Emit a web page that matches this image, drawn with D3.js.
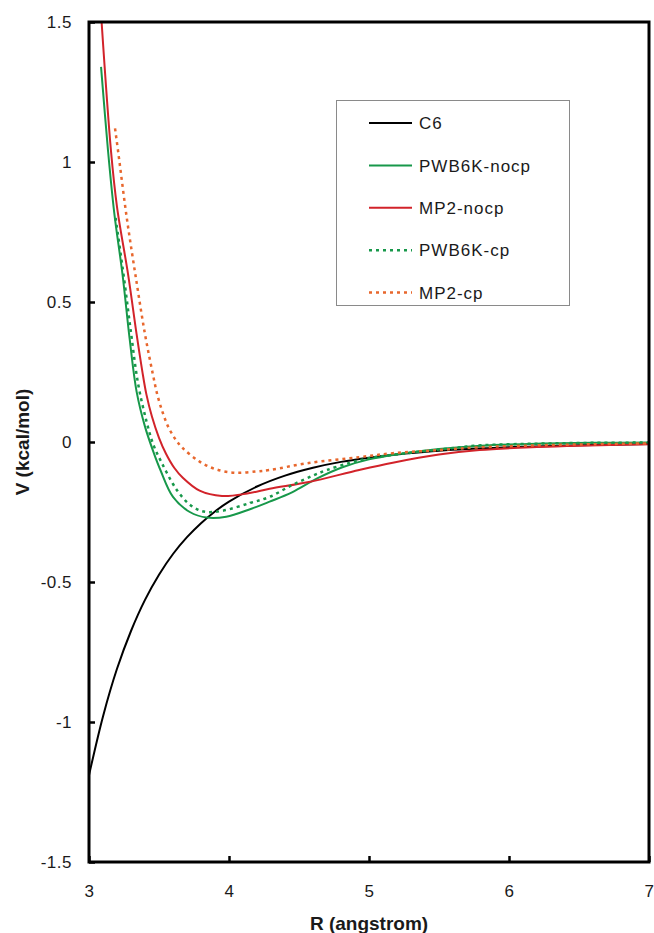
<!DOCTYPE html>
<html>
<head>
    <meta charset="utf-8">
    <title>V vs R</title>
    <script src="https://cdnjs.cloudflare.com/ajax/libs/d3/7.8.5/d3.min.js"></script>
    <style>
        html, body {
            margin: 0;
            padding: 0;
            background: #fff;
        }
        text {
            font-family: "Liberation Sans", Arial, sans-serif;
        }
    </style>
</head>
<body>
    <svg id="chart" width="654" height="933"></svg>

    <script>
        // values (R in angstrom, V in kcal/mol)
        const c6R = [3.0, 3.1, 3.2, 3.3, 3.4, 3.5, 3.6, 3.7, 3.8, 3.9, 4.0, 4.2, 4.4, 4.6, 4.8, 5.0, 5.25, 5.5, 6.0, 6.5, 7.0];
        const c6V = [-1.19, -0.98, -0.81, -0.675, -0.564, -0.474, -0.40, -0.34, -0.29, -0.248, -0.213, -0.159, -0.120, -0.092, -0.071, -0.056, -0.042, -0.031, -0.019, -0.012, -0.007];

        const pwbNocpR = [3.086, 3.136, 3.18, 3.24, 3.29, 3.34, 3.40, 3.46, 3.51, 3.60, 3.72, 3.84, 3.98, 4.15, 4.29, 4.45, 4.63, 4.81, 5.0, 5.2, 5.5, 5.8, 6.2, 6.6, 7.0];
        const pwbNocpV = [1.34, 1.04, 0.82, 0.596, 0.37, 0.18, 0.055, -0.035, -0.10, -0.196, -0.25, -0.27, -0.267, -0.24, -0.213, -0.18, -0.13, -0.09, -0.062, -0.044, -0.025, -0.013, -0.006, -0.003, -0.002];

        const mp2NocpR = [3.09, 3.157, 3.20, 3.28, 3.34, 3.38, 3.41, 3.45, 3.50, 3.55, 3.61, 3.67, 3.79, 3.95, 4.13, 4.29, 4.57, 4.93, 5.17, 5.5, 5.79, 6.2, 6.5, 7.0];
        const mp2NocpV = [1.50, 1.04, 0.84, 0.596, 0.385, 0.255, 0.17, 0.09, 0.015, -0.042, -0.093, -0.128, -0.174, -0.193, -0.184, -0.167, -0.143, -0.10, -0.074, -0.045, -0.029, -0.018, -0.013, -0.008];

        const pwbCpR = [3.19, 3.25, 3.30, 3.35, 3.41, 3.46, 3.52, 3.60, 3.64, 3.70, 3.77, 3.84, 3.95, 4.15, 4.29, 4.45, 4.60, 4.70, 4.86, 5.0, 5.17, 5.5, 5.8, 6.2, 6.6, 7.0];
        const pwbCpV = [0.80, 0.585, 0.39, 0.21, 0.075, -0.01, -0.075, -0.15, -0.18, -0.215, -0.24, -0.25, -0.246, -0.218, -0.196, -0.154, -0.12, -0.10, -0.075, -0.058, -0.046, -0.027, -0.012, -0.006, -0.003, -0.002];

        const mp2CpR = [3.186, 3.21, 3.27, 3.34, 3.40, 3.455, 3.49, 3.53, 3.57, 3.62, 3.67, 3.79, 3.91, 4.05, 4.2, 4.29, 4.57, 4.93, 5.17, 5.5, 5.79, 6.2, 6.6, 7.0];
        const mp2CpV = [1.12, 1.03, 0.80, 0.57, 0.385, 0.245, 0.165, 0.10, 0.05, 0.008, -0.022, -0.07, -0.098, -0.11, -0.105, -0.10, -0.075, -0.054, -0.04, -0.029, -0.019, -0.012, -0.008, -0.005];

        const seriesNames = ["C6", "PWB6K-nocp", "MP2-nocp", "PWB6K-cp", "MP2-cp"];
        const xTicks = [3, 4, 5, 6, 7];
        const yTicks = [-1.5, -1, -0.5, 0, 0.5, 1, 1.5];

        const series = [
            {name: seriesNames[0], r: c6R, v: c6V, color: "#000000", dash: null},
            {name: seriesNames[1], r: pwbNocpR, v: pwbNocpV, color: "#17984a", dash: null},
            {name: seriesNames[2], r: mp2NocpR, v: mp2NocpV, color: "#d2232a", dash: null},
            {name: seriesNames[3], r: pwbCpR, v: pwbCpV, color: "#17984a", dash: "3,4"},
            {name: seriesNames[4], r: mp2CpR, v: mp2CpV, color: "#e8672d", dash: "3,4"}
        ];

        const plot = {left: 89, right: 649, top: 22, bottom: 862};

        const svg = d3.select("#chart");

        const x = d3.scaleLinear().domain([3, 7]).range([plot.left, plot.right]);
        const y = d3.scaleLinear().domain([-1.5, 1.5]).range([plot.bottom, plot.top]);

        svg.append("clipPath")
            .attr("id", "plotClip")
            .append("rect")
            .attr("x", plot.left)
            .attr("y", plot.top)
            .attr("width", plot.right - plot.left)
            .attr("height", plot.bottom - plot.top);

        // axes, ticks pointing inward
        const xAxis = svg.append("g")
            .attr("transform", `translate(0,${plot.bottom})`)
            .call(d3.axisBottom(x).tickValues(xTicks).tickSizeInner(-6).tickSizeOuter(0).tickPadding(23).tickFormat(d => String(d)));

        const yAxis = svg.append("g")
            .attr("transform", `translate(${plot.left},0)`)
            .call(d3.axisLeft(y).tickValues(yTicks).tickSizeInner(-6).tickSizeOuter(0).tickPadding(17).tickFormat(d => String(d)));

        [xAxis, yAxis].forEach(function (g) {
            g.select(".domain").remove();
            g.selectAll(".tick line").attr("stroke", "#000").attr("stroke-width", 2.5);
            g.selectAll(".tick text")
                .attr("fill", "#1a1a1a")
                .style("font-size", "17px")
                .style("letter-spacing", "0.5px")
                .style("font-family", "'Liberation Sans', Arial, sans-serif");
        });

        const line = d3.line()
            .x(d => x(d[0]))
            .y(d => y(d[1]))
            .curve(d3.curveCatmullRom.alpha(0.5));

        svg.append("g")
            .attr("clip-path", "url(#plotClip)")
            .selectAll("path")
            .data(series)
            .join("path")
            .attr("d", d => line(d.r.map((r, i) => [r, d.v[i]])))
            .attr("fill", "none")
            .attr("stroke", d => d.color)
            .attr("stroke-width", d => d.dash ? 2.5 : 2)
            .attr("stroke-dasharray", d => d.dash);

        // frame
        svg.append("rect")
            .attr("x", plot.left)
            .attr("y", plot.top)
            .attr("width", plot.right - plot.left)
            .attr("height", plot.bottom - plot.top)
            .attr("fill", "none")
            .attr("stroke", "#000")
            .attr("stroke-width", 3);

        // axis titles
        svg.append("text")
            .attr("x", (plot.left + plot.right) / 2)
            .attr("y", 930)
            .attr("text-anchor", "middle")
            .style("font-size", "19px")
            .style("font-weight", "bold")
            .attr("fill", "#1a1a1a")
            .text("R (angstrom)");

        svg.append("text")
            .attr("transform", `translate(29,${(plot.top + plot.bottom) / 2}) rotate(-90)`)
            .attr("text-anchor", "middle")
            .style("font-size", "19px")
            .style("font-weight", "bold")
            .attr("fill", "#1a1a1a")
            .text("V (kcal/mol)");

        // legend
        const legend = svg.append("g");

        legend.append("rect")
            .attr("x", 336.5)
            .attr("y", 100.5)
            .attr("width", 233)
            .attr("height", 205)
            .attr("fill", "#fff")
            .attr("stroke", "#8a8a8a")
            .attr("stroke-width", 1);

        const rows = legend.selectAll("g.row")
            .data(series)
            .join("g")
            .attr("class", "row")
            .attr("transform", (d, i) => `translate(0,${123 + i * 42.4})`);

        rows.append("line")
            .attr("x1", 369)
            .attr("x2", 412)
            .attr("stroke", d => d.color)
            .attr("stroke-width", d => d.dash ? 2.5 : 2)
            .attr("stroke-dasharray", d => d.dash);

        rows.append("text")
            .attr("x", 419)
            .attr("dy", "0.36em")
            .style("font-size", "17px")
            .style("letter-spacing", "1px")
            .attr("fill", "#1a1a1a")
            .text(d => d.name);
    </script>
</body>
</html>
